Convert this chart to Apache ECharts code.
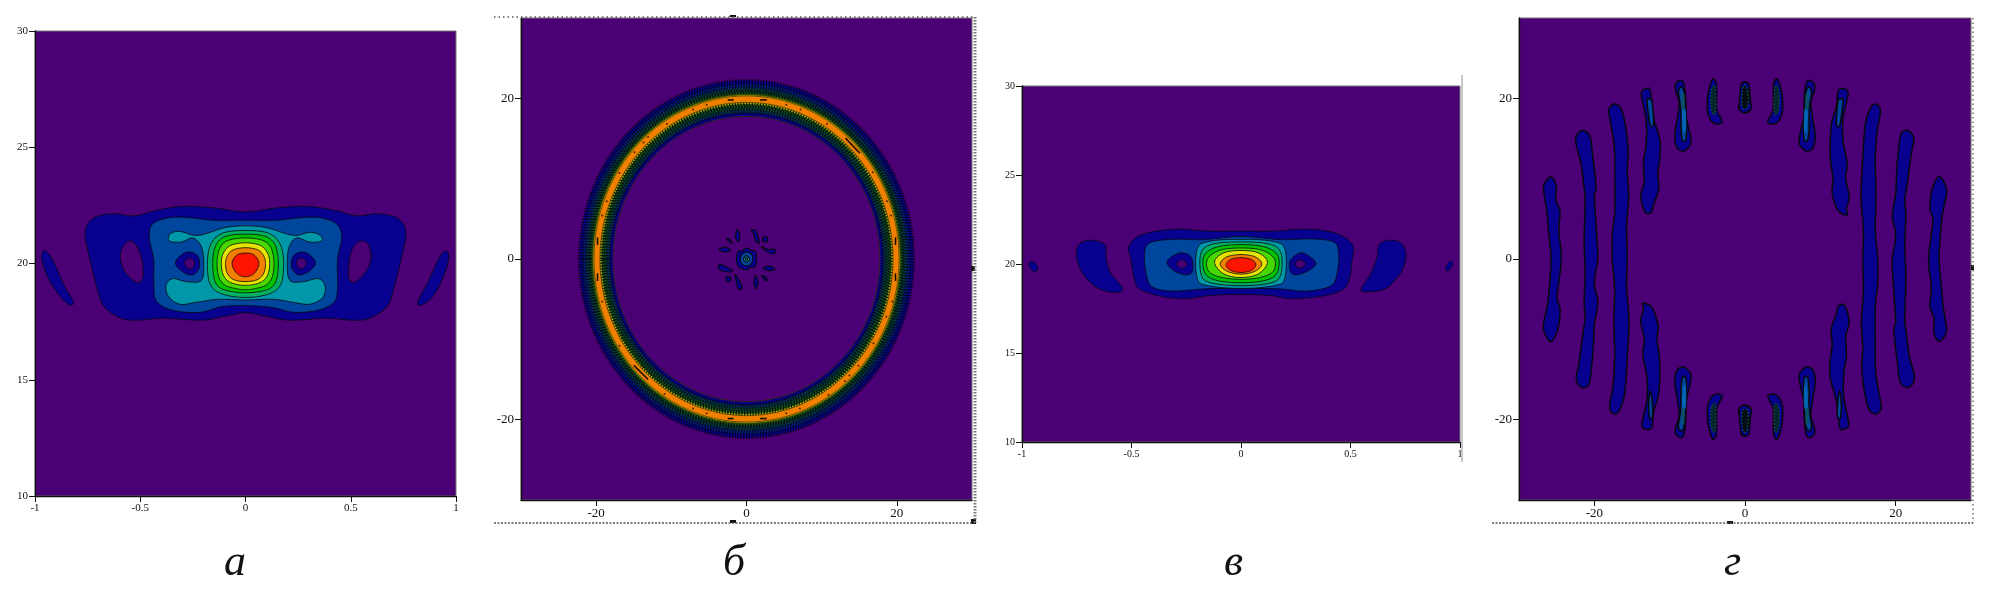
<!DOCTYPE html>
<html><head><meta charset="utf-8">
<style>html,body{margin:0;padding:0;background:#fff}#c{width:2013px;height:591px}</style>
<script src="https://cdn.jsdelivr.net/npm/echarts@6/dist/echarts.min.js"></script>
</head><body><div id="c"></div>
<script>
// ---------- colours of the contour levels ----------
var PURPLE='#4b0076',NAVY='#08008e',BLUE='#00469c',TEAL='#0098a8',C4='#00b060',C5='#00c400',C6='#48d800',YEL='#e4e400',ORG='#f28000',RED='#ff1400';
// ---------- tick values ----------
var ticksNarrowX=[-1,-0.5,0,0.5,1], ticksNarrowY=[10,15,20,25,30], ticksWide=[-20,0,20];
var panelLetters=['а','б','в','г'];
// ---------- panel а : contours read in data units (x, y) ----------
var aOuter=[[0,22.22],[.148,22.39],[.29,22.46],[.417,22.3],[.529,22.05],[.624,22.14],[.719,21.97],[.762,21.38],[.743,20.32],[.703,18.87],[.671,18.14],[.592,17.65],[.513,17.56],[.386,17.65],[.211,17.56],[.1,17.73],[0,17.88],[-.1,17.73],[-.211,17.56],[-.386,17.65],[-.513,17.56],[-.592,17.65],[-.671,18.14],[-.703,18.87],[-.743,20.32],[-.762,21.38],[-.719,21.97],[-.624,22.14],[-.529,22.05],[-.417,22.3],[-.29,22.46],[-.148,22.39]];
var aHoleR=[[.552,20.97],[.584,20.81],[.597,20.32],[.584,19.84],[.544,19.35],[.505,19.19],[.489,19.51],[.497,20.32],[.52,20.81]];
var aHoleL=[[-.543,20.97],[-.575,20.81],[-.595,20.32],[-.575,19.68],[-.52,19.19],[-.489,19.35],[-.489,20],[-.51,20.65]];
var aCrescR=[[.957,20.52],[.965,20.16],[.933,19.27],[.886,18.54],[.838,18.22],[.819,18.35],[.87,19.27],[.925,20.32]];
var aCrescL=[[-.956,20.57],[-.967,20.16],[-.932,19.27],[-.876,18.54],[-.837,18.22],[-.817,18.35],[-.86,19.03],[-.916,20.16]];
var aBlue=[[0,21.86],[.148,21.86],[.259,21.97],[.354,21.97],[.433,21.7],[.457,21.13],[.437,20.16],[.437,18.87],[.417,18.3],[.338,17.98],[.227,17.9],[.132,18.1],[0,18.19],[-.114,18.14],[-.217,17.9],[-.343,17.98],[-.423,18.38],[-.436,19.19],[-.436,20.16],[-.457,21.13],[-.441,21.7],[-.362,21.97],[-.267,21.97],[-.148,21.86]];
var aTeal=[[0,21.62],[.1,21.54],[.227,21.21],[.306,21.34],[.354,21.21],[.362,20.97],[.306,20.92],[.243,21.1],[.208,20.73],[.198,20],[.211,19.27],[.275,19.22],[.346,19.35],[.378,19.03],[.367,18.54],[.306,18.25],[.227,18.33],[.132,18.46],[0,18.43],[-.13,18.46],[-.233,18.33],[-.313,18.25],[-.368,18.62],[-.376,19.1],[-.344,19.35],[-.281,19.22],[-.21,19.27],[-.198,20],[-.21,20.73],[-.25,21.1],[-.306,20.92],[-.362,20.97],[-.359,21.26],[-.314,21.38],[-.225,21.21],[-.098,21.54]];
var aEyeR=[[.267,20.5],[.306,20.36],[.333,20],[.298,19.64],[.251,19.51],[.219,19.84],[.227,20.32]];
var aEyeL=[[-.267,20.5],[-.306,20.36],[-.333,20],[-.298,19.64],[-.251,19.51],[-.219,19.84],[-.227,20.32]];
var aPupilR=[[.267,20.23],[.29,20.05],[.275,19.8],[.25,19.82],[.243,20.1]];
var aPupilL=[[-.267,20.23],[-.29,20.05],[-.275,19.8],[-.25,19.82],[-.243,20.1]];
var aL4=[[0,21.42],[.1,21.33],[.156,20.97],[.179,20.32],[.176,19.35],[.148,18.87],[.084,18.62],[0,18.54],[-.084,18.62],[-.148,18.87],[-.176,19.35],[-.179,20.32],[-.156,20.97],[-.1,21.33]];
var aL5=[[0,21.26],[.09,21.18],[.137,20.85],[.155,20.2],[.15,19.4],[.125,18.98],[.07,18.8],[0,18.74],[-.07,18.8],[-.125,18.98],[-.15,19.4],[-.155,20.2],[-.137,20.85],[-.09,21.18]];
var aL6=[[0,21.1],[.08,21],[.12,20.7],[.135,20.1],[.128,19.45],[.1,19.08],[.05,18.93],[0,18.87],[-.05,18.93],[-.1,19.08],[-.128,19.45],[-.135,20.1],[-.12,20.7],[-.08,21]];
var aYel=[[0,20.89],[.07,20.78],[.105,20.45],[.115,20],[.105,19.5],[.07,19.18],[0,19.06],[-.07,19.18],[-.105,19.5],[-.115,20],[-.105,20.45],[-.07,20.78]];
var aOrg=[[0,20.68],[.06,20.58],[.088,20.3],[.095,19.95],[.085,19.55],[.055,19.3],[0,19.22],[-.055,19.3],[-.085,19.55],[-.095,19.95],[-.088,20.3],[-.06,20.58]];
var aRed=[[0,20.45],[.042,20.36],[.064,20],[.042,19.58],[0,19.43],[-.042,19.58],[-.064,20],[-.042,20.36]];
// ---------- panel в ----------
var vOuter=[[0,21.85],[.149,21.85],[.301,21.96],[.438,21.71],[.511,21.05],[.507,20.19],[.492,19.05],[.454,18.48],[.347,18.15],[.225,18.06],[.134,18.23],[0,18.29],[-.14,18.23],[-.247,18.06],[-.353,18.15],[-.46,18.57],[-.487,19.14],[-.505,20.38],[-.513,20.95],[-.46,21.62],[-.307,21.96],[-.155,21.85]];
var vCrescR=[[.629,21.05],[.667,21.33],[.728,21.2],[.753,20.57],[.735,19.62],[.667,18.67],[.591,18.44],[.548,18.57],[.591,19.43],[.621,20.38]];
var vCrescL=[[-.619,21.05],[-.673,21.33],[-.731,21.2],[-.752,20.57],[-.726,19.52],[-.658,18.67],[-.581,18.4],[-.54,18.63],[-.597,19.52],[-.616,20.38]];
var vTinyR=[[.953,20.15],[.968,20],[.944,19.58],[.935,19.81]];
var vTinyL=[[-.962,20.15],[-.939,20.04],[-.927,19.71],[-.947,19.58],[-.967,19.9]];
var vBlue=[[0,21.55],[.18,21.37],[.317,21.41],[.423,21.24],[.446,20.57],[.438,19.43],[.408,18.76],[.301,18.48],[.164,18.61],[0,18.62],[-.155,18.61],[-.307,18.48],[-.399,18.67],[-.429,19.24],[-.441,20.57],[-.414,21.2],[-.307,21.39],[-.17,21.37]];
var vEyeR=[[.271,20.63],[.317,20.38],[.342,20],[.301,19.58],[.248,19.39],[.225,19.62],[.225,20.19]];
var vEyeL=[[-.269,20.63],[-.227,20.38],[-.221,19.62],[-.247,19.39],[-.3,19.58],[-.338,20.04],[-.315,20.42]];
var vPupilR=[[.27,20.24],[.295,20],[.27,19.76],[.247,20]];
var vPupilL=[[-.27,20.24],[-.247,20],[-.27,19.76],[-.295,20]];
var vL3=[[0,21.39],[.14,21.28],[.2,20.85],[.2,19.2],[.15,18.78],[0,18.63],[-.15,18.78],[-.2,19.2],[-.2,20.85],[-.14,21.28]];
var vL4=[[0,21.24],[.13,21.12],[.183,20.6],[.18,19.35],[.13,18.92],[0,18.78],[-.13,18.92],[-.18,19.35],[-.183,20.6],[-.13,21.12]];
var vL5=[[0,21.09],[.11,20.95],[.169,20.45],[.165,19.5],[.11,19.08],[0,18.95],[-.11,19.08],[-.165,19.5],[-.169,20.45],[-.11,20.95]];
var vL6=[[0,20.9],[.095,20.78],[.152,20.3],[.148,19.6],[.09,19.25],[0,19.14],[-.09,19.25],[-.148,19.6],[-.152,20.3],[-.095,20.78]];
var vYel=[[0,20.76],[.08,20.62],[.121,20.1],[.08,19.45],[0,19.24],[-.08,19.45],[-.121,20.1],[-.08,20.62]];
var vOrg=[[0,20.53],[.065,20.4],[.095,20],[.065,19.6],[0,19.43],[-.065,19.6],[-.095,20],[-.065,20.4]];
var vRed=[[0,20.36],[.048,20.25],[.068,19.95],[.048,19.65],[0,19.52],[-.048,19.65],[-.068,19.95],[-.048,20.25]];
// ---------- panel б ----------
var bRingRadii=[22.25,21.8,21.35,21.0,20.7,20.45,20.3,19.5,19.3,19.0,18.6,18.2,17.75];
var bRingColors=['#08007e','#03186a','#043848','#083f28','#1f5810','#b8b400',ORG,'#b8b400','#1f5810','#083f28','#04304c','#08007e',PURPLE];
var bHatched=[1,1,1,1,1,0,0,0,1,1,1,1,0];
var bDashes=[[[-2.5,19.8],[-1.7,19.8]],[[1.8,19.8],[2.7,19.8]],[[-2.5,-19.86],[-1.7,-19.86]],[[1.8,-19.86],[2.7,-19.86]],[[13.17,15.05],[15.08,13.16]],[[-14.99,-13.25],[-13.08,-15]],[[-19.82,2.69],[-19.82,1.75]],[[-19.82,-1.79],[-19.82,-2.74]],[[19.82,2.69],[19.82,1.75]],[[19.82,-1.79],[19.82,-2.74]]];
var bDots=[[-7.1,18.6],[-5.3,19.2],[5.3,19.2],[7.2,18.6],[10.7,16.8],[-10.6,16.8],[-14.9,13.3],[-13.7,14.5],[-13.1,15.2],[-16.9,10.7],[-18.6,7.2],[-19.2,5.4],[16.8,10.8],[18.7,7.2],[19.2,5.4],[19.4,-5.3],[18.6,-7.2],[16.9,-10.5],[14.9,-13.3],[13.7,-14.5],[13.1,-15.2],[10.9,-16.9],[7.1,-18.6],[5.3,-19.2],[-5.3,-19.2],[-7.1,-18.6],[-10.9,-16.8],[-16.9,-10.8],[-19.2,-5.3]];
var bCore=[[0,1.37],[.67,1.04],[1.2,.91],[1.33,0],[1.11,-.95],[.44,-1.04],[0,-1.37],[-.67,-1.16],[-1.11,-.95],[-1.33,0],[-1.11,.91],[-.53,1.04]];
var bCoreBlue=[[0,.85],[.65,.6],[.85,0],[.6,-.6],[0,-.85],[-.6,-.6],[-.85,0],[-.6,.6]];
var bCoreTeal=[[0,.42],[.4,0],[0,-.42],[-.4,0]];
var bCoreGreen=[[0,.16],[.15,0],[0,-.16],[-.15,0]];
var bBits=[[[-1.2,3.69],[-.89,2.86],[-1.06,2.16],[-1.42,2.57],[-1.42,3.19]],[[.67,3.61],[1.24,3.53],[1.55,2.7],[1.69,1.95],[1.2,2.28],[.98,2.99]],[[2.2,2.7],[2.75,2.7],[2.75,2.2],[2.2,2.2]],[[-2.66,2.57],[-2.22,2.45],[-1.91,1.95],[-2.39,2.24]],[[-3.64,1.2],[-2.88,1.45],[-2.13,1.12],[-2.88,.87]],[[2,1.54],[2.88,1.2],[3.77,1.2],[3.64,.62],[2.75,.91]],[[-3.64,-.66],[-2.75,-.95],[-1.86,-1.45],[-2.44,-1.62],[-3.64,-1.29]],[[2.22,-1.16],[3.02,-.87],[3.77,-1.24],[3.02,-1.45]],[[-2.7,-2.25],[-2.15,-2.25],[-2.15,-2.75],[-2.7,-2.75]],[[-1.55,-1.99],[-1.11,-2.41],[-.58,-3.61],[-1.11,-3.69],[-1.33,-2.82]],[[1.2,-2.12],[1.55,-2.95],[1.29,-3.69],[.98,-2.95]],[[2,-2.07],[2.48,-2.2],[2.79,-2.7],[2.31,-2.49]]];
// ---------- panel г : left half read, right half is the same picture reflected ----------
var gA=[[-25.77,10.23],[-25.09,9.2],[-25.09,7.32],[-24.55,5.92],[-24.73,3.57],[-24.37,.28],[-24.73,-3],[-24.95,-4.88],[-24.55,-6.29],[-24.82,-8.64],[-25.72,-10.28],[-26.53,-9.34],[-26.76,-8.17],[-26.17,-5.35],[-25.86,-2.07],[-25.77,.28],[-26.08,3.57],[-26.31,5.92],[-26.62,7.79],[-26.71,9.2]];
var gB=[[-21.58,16.01],[-20.59,15.31],[-20.23,12.96],[-19.77,8.97],[-20,7.79],[-19.77,4.04],[-19.55,.28],[-20,-3],[-19.55,-5.35],[-20,-8.17],[-20.14,-10.99],[-20.45,-14.27],[-20.77,-15.68],[-21.67,-16],[-22.39,-14.98],[-22.03,-12.86],[-21.49,-9.11],[-21.22,-7.23],[-21.35,-5.35],[-21.22,-1.6],[-21.35,2.16],[-21.22,7.32],[-21.35,8.73],[-21.8,12.02],[-22.39,14.13],[-22.39,15.31]];
var gC=[[-17.3,19.3],[-16.4,18.59],[-15.81,16.24],[-15.5,13.43],[-15.63,11.08],[-15.45,7.79],[-15.72,4.04],[-15.63,.28],[-15.72,-3.47],[-15.41,-7.7],[-15.63,-12.39],[-15.95,-16.62],[-16.62,-18.73],[-17.3,-19.3],[-17.97,-18.5],[-17.52,-15.68],[-17.3,-12.39],[-17.39,-7.7],[-17.3,-3.47],[-17.61,-.19],[-17.61,3.1],[-17.3,5.92],[-17.3,11.08],[-17.39,14.37],[-18.06,18.12],[-17.97,18.83]];
var gDUp=[[-13.15,21.17],[-12.57,20.94],[-12.12,17.65],[-11.31,14.84],[-11.31,12.49],[-11.58,10.61],[-11.44,8.73],[-12.12,6.85],[-12.43,5.82],[-13.24,5.82],[-13.83,7.79],[-13.38,9.67],[-13.47,12.02],[-13.11,14.37],[-13.11,17.18],[-13.69,20],[-13.69,20.85]];
var gDUpIn=[[-12.7,19.9],[-12.34,19.62],[-12.12,16.95],[-12.43,16.48],[-12.7,17.18],[-13.02,19.77]];
var gDLo=[[-13.56,-5.49],[-12.34,-6.06],[-11.58,-8.17],[-11.67,-10.05],[-11.31,-12.86],[-11.44,-16.62],[-12.12,-18.97],[-12.34,-20.85],[-13.02,-21.22],[-13.69,-20.61],[-13.02,-17.56],[-13.02,-14.74],[-13.56,-11.92],[-13.38,-10.05],[-13.83,-7.7],[-13.47,-6.29]];
var gDLoIn=[[-12.57,-16.48],[-12.34,-17.56],[-12.25,-19.44],[-12.66,-19.81],[-12.79,-18.03]];
var gE=[[-8.51,22.25],[-8.06,21.64],[-7.84,19.53],[-7.79,17.65],[-7.16,14.74],[-7.61,13.8],[-8.29,13.43],[-9.05,13.9],[-9.32,15.31],[-8.96,17.65],[-8.74,19.53],[-9.19,20.94],[-9.19,21.78]];
var gEIn=[[-8.51,21.41],[-8.06,20.7],[-7.88,18.12],[-7.79,15.07],[-8.29,14.74],[-8.51,16.24],[-8.51,18.59],[-8.83,20.7]];
var gEBright=[[-8.38,18.59],[-7.88,18.5],[-7.84,16],[-8.2,16]];
var gEGreen=[[-8.42,20.47],[-8.06,20.47],[-8.06,18.69],[-8.42,18.69]];
var gF=[[-4.19,22.44],[-3.78,21.64],[-3.78,19.06],[-3.56,18.12],[-3.02,17.09],[-3.78,16.81],[-4.55,17.28],[-5,18.59],[-4.91,20.47],[-4.55,21.88]];
var gFIn=[[-4.3,21.5],[-3.95,21.3],[-3.85,18.6],[-4.1,17.9],[-4.5,18.6],[-4.55,20.5]];
var gG=[[-.05,22.02],[.5,21.64],[.72,19.77],[.72,18.59],[.05,18.22],[-.86,18.83],[-.5,20],[-.54,21.64]];
var gGIn=[[-.1,21.6],[.3,21.2],[.42,19.6],[.3,18.8],[-.35,18.9],[-.35,20.6]];

function flipX(p){return p.map(function(q){return [-q[0],q[1]];});}
function flipY(p){return p.map(function(q){return [q[0],-q[1]];});}
function flipXY(p){return flipX(flipY(p));}
function L(points,color,noStroke,speck){return {points:points,color:color,noStroke:!!noStroke,speck:!!speck};}

var aLayers=[L(aOuter,NAVY),L(aHoleR,PURPLE),L(aHoleL,PURPLE),L(aCrescR,NAVY),L(aCrescL,NAVY),L(aBlue,BLUE),L(aTeal,TEAL),L(aEyeR,NAVY),L(aEyeL,NAVY),L(aPupilR,PURPLE),L(aPupilL,PURPLE),L(aL4,C4),L(aL5,C5),L(aL6,C6),L(aYel,YEL),L(aOrg,ORG),L(aRed,RED)];
var vLayers=[L(vOuter,NAVY),L(vCrescR,NAVY),L(vCrescL,NAVY),L(vTinyR,NAVY),L(vTinyL,NAVY),L(vBlue,BLUE),L(vEyeR,NAVY),L(vEyeL,NAVY),L(vPupilR,PURPLE),L(vPupilL,PURPLE),L(vL3,TEAL),L(vL4,C4),L(vL5,C5),L(vL6,C6),L(vYel,YEL),L(vOrg,ORG),L(vRed,RED)];
var bLayers=[L(bCore,NAVY),L(bCoreBlue,BLUE),L(bCoreTeal,TEAL),L(bCoreGreen,C4)].concat(bBits.map(function(p){return L(p,NAVY);}));
var gBright='#0064b4',gGreen='#0a5068';
var gLayers=[];
[gA,gB,gC].forEach(function(p){gLayers.push(L(p,NAVY),L(flipXY(p),NAVY));});
gLayers.push(L(gDUp,NAVY),L(flipXY(gDUp),NAVY),L(gDLo,NAVY),L(flipXY(gDLo),NAVY));
[gDUpIn,gDLoIn].forEach(function(p){gLayers.push(L(p,BLUE),L(flipX(p),BLUE));});
[gE,gF,gG].forEach(function(p){gLayers.push(L(p,NAVY),L(flipX(p),NAVY),L(flipY(p),NAVY),L(flipXY(p),NAVY));});
[[gEIn,BLUE],[gEBright,gBright,1],[gEGreen,gGreen,1],[gFIn,'#06262e',0,1],[gGIn,'#040e12',0,1]].forEach(function(e){
  [e[0],flipX(e[0]),flipY(e[0]),flipXY(e[0])].forEach(function(p){gLayers.push(L(p,e[1],e[2],e[3]));});
});

// closed Catmull-Rom outline through the read points, in pixels
function outline(pts){
  var out=[],n=pts.length,steps=8;
  for(var i=0;i<n;i++){
    var p0=pts[(i-1+n)%n],p1=pts[i],p2=pts[(i+1)%n],p3=pts[(i+2)%n];
    for(var s=0;s<steps;s++){
      var t=s/steps,t2=t*t,t3=t2*t;
      out.push([0,1].map(function(k){
        return 0.5*(2*p1[k]+(p2[k]-p0[k])*t+(2*p0[k]-5*p1[k]+4*p2[k]-p3[k])*t2+(3*p1[k]-p0[k]-3*p2[k]+p3[k])*t3);
      }));
    }
  }
  return out;
}
function contourSeries(layers,gi){
  return {type:'custom',xAxisIndex:gi,yAxisIndex:gi,silent:true,clip:true,z:3,
    data:layers.map(function(l,i){return [i];}),
    renderItem:function(params,api){
      var l=layers[api.value(0)];
      var st={fill:l.color,stroke:l.noStroke?null:'#08080f',lineWidth:l.noStroke?0:(gi===3?1.5:(gi===1?1.1:0.8))};
      if(l.speck){st.stroke='#168048';st.lineWidth=1;st.lineDash=[1,2.5];}
      return {type:'polygon',shape:{points:outline(l.points.map(function(p){return api.coord(p);}))},style:st};
    }};
}
function ringSeries(gi){
  return {type:'custom',xAxisIndex:gi,yAxisIndex:gi,silent:true,z:2,
    data:bRingRadii.map(function(r,i){return [r,i];}),
    renderItem:function(params,api){
      var r=api.value(0),i=api.value(1),c=api.coord([0,0]),e=api.coord([r,r]);
      var rx=e[0]-c[0],ry=c[1]-e[1],hat=bHatched[i];
      return {type:'ellipse',shape:{cx:c[0],cy:c[1],rx:rx,ry:ry},
        style:{fill:bRingColors[i],stroke:hat?'rgba(0,0,8,0.85)':'#3a3000',lineWidth:hat?2.6:0.7,lineDash:hat?[1.2,1.6]:null}};
    }};
}
function dashSeries(gi){
  return {type:'custom',xAxisIndex:gi,yAxisIndex:gi,silent:true,z:4,
    data:bDashes.map(function(d,i){return [i];}),
    renderItem:function(params,api){
      var d=bDashes[api.value(0)],a=api.coord(d[0]),b=api.coord(d[1]);
      return {type:'line',shape:{x1:a[0],y1:a[1],x2:b[0],y2:b[1]},style:{stroke:'#1a1000',lineWidth:1.6}};
    }};
}
function axis(gi,min,max,ticks,size){
  return {type:'value',gridIndex:gi,min:min,max:max,
    axisLine:{show:true,onZero:false,lineStyle:{color:'#111',width:1.4}},
    axisTick:{show:true,length:6,lineStyle:{color:'#111',width:1},customValues:ticks},
    axisLabel:{fontFamily:'Liberation Serif',fontSize:size,color:'#111',margin:7,customValues:ticks,formatter:function(v){return String(v);}},
    splitLine:{show:false}};
}
var grids=[
 {left:35,top:31,width:421,height:465},
 {left:521,top:18,width:451,height:482},
 {left:1022,top:86,width:438,height:356},
 {left:1519,top:18,width:452,height:482}
];
function letter(i,x,y){return {type:'text',left:x,top:y,style:{text:panelLetters[i],fontFamily:'Liberation Serif',fontStyle:'italic',fontSize:44,fill:'#111'}};}
var option={animation:false,backgroundColor:'#fff',
 grid:grids.map(function(g){return Object.assign({show:true,backgroundColor:PURPLE,borderColor:'#777',borderWidth:1},g);}),
 xAxis:[axis(0,-1,1,ticksNarrowX,11),axis(1,-30,30,ticksWide,13),axis(2,-1,1,ticksNarrowX,10),axis(3,-30,30,ticksWide,13)],
 yAxis:[axis(0,10,30,ticksNarrowY,11),axis(1,-30,30,ticksWide,13),axis(2,10,30,ticksNarrowY,10),axis(3,-30,30,ticksWide,13)],
 series:[contourSeries(aLayers,0),ringSeries(1),dashSeries(1),contourSeries(bLayers,1),
   {type:'scatter',xAxisIndex:1,yAxisIndex:1,data:bDots,symbolSize:2,silent:true,z:4,itemStyle:{color:'#1a1000'}},
   contourSeries(vLayers,2),contourSeries(gLayers,3)],
 graphic:[
  letter(0,224,541),letter(1,723,541),letter(2,1224,541),letter(3,1724,541),
  // scanning artefacts around the pasted plots
  {type:'line',shape:{x1:494,y1:17,x2:975,y2:17},style:{stroke:'#555',lineWidth:1.4,lineDash:[1.5,3]},z:1},
  {type:'line',shape:{x1:494,y1:523,x2:975,y2:523},style:{stroke:'#555',lineWidth:1.4,lineDash:[2,1.5]},z:1},
  {type:'line',shape:{x1:975,y1:17,x2:975,y2:523},style:{stroke:'#777',lineWidth:3,lineDash:[1.5,1.5]},z:1},
  {type:'rect',shape:{x:971,y:266,width:4,height:5},style:{fill:'#111'}},
  {type:'rect',shape:{x:971,y:519,width:5,height:5},style:{fill:'#111'}},
  {type:'rect',shape:{x:730,y:520,width:6,height:3},style:{fill:'#111'}},
  {type:'rect',shape:{x:730,y:15,width:6,height:2},style:{fill:'#111'}},
  {type:'line',shape:{x1:1492,y1:523,x2:1973,y2:523},style:{stroke:'#555',lineWidth:1.4,lineDash:[2,1.5]},z:1},
  {type:'line',shape:{x1:1973,y1:18,x2:1973,y2:523},style:{stroke:'#666',lineWidth:1.4,lineDash:[1.5,3]},z:1},
  {type:'rect',shape:{x:1727,y:521,width:6,height:3},style:{fill:'#111'}},
  {type:'rect',shape:{x:1971,y:265,width:3,height:5},style:{fill:'#111'}},
  {type:'line',shape:{x1:1462,y1:75,x2:1462,y2:462},style:{stroke:'#c8c8c8',lineWidth:2},z:1}
 ]};
var chart=echarts.init(document.getElementById('c'),null,{renderer:'canvas'});
chart.setOption(option);
</script></body></html>
